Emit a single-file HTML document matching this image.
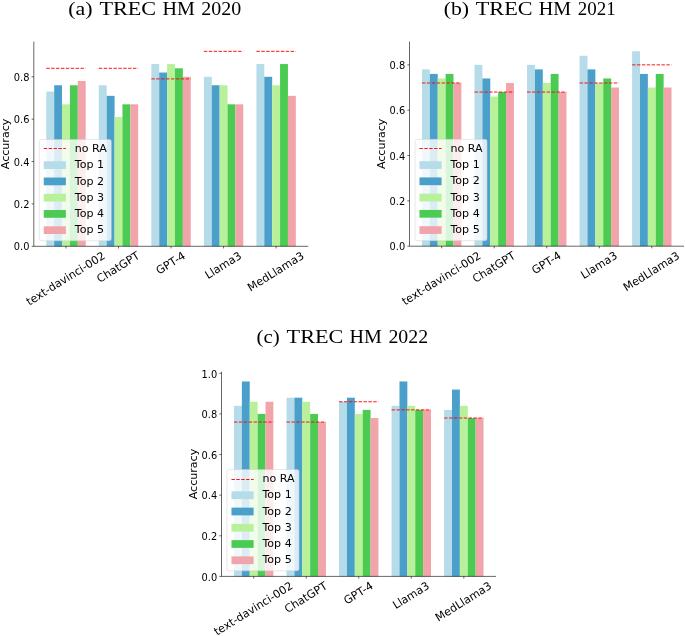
<!DOCTYPE html>
<html><head><meta charset="utf-8"><style>
html,body{margin:0;padding:0;background:#fff;}
body{width:685px;height:636px;overflow:hidden;}
svg{display:block;}
.s{font-family:"DejaVu Sans","Liberation Sans",sans-serif;fill:#000;}
.t{font-family:"Liberation Serif","DejaVu Serif",serif;fill:#000;}
</style></head><body>
<svg width="685" height="636" viewBox="0 0 685 636">
<rect x="0" y="0" width="685" height="636" fill="#fff"/>
<g><rect x="46.28" y="91.61" width="7.88" height="154.69" fill="#B5DCE8"/>
<rect x="54.16" y="85.25" width="7.88" height="161.05" fill="#4BA0CB"/>
<rect x="62.04" y="104.32" width="7.88" height="141.98" fill="#B8F19A"/>
<rect x="69.92" y="85.25" width="7.88" height="161.05" fill="#4CCB52"/>
<rect x="77.80" y="81.01" width="7.88" height="165.29" fill="#F1A5AB"/>
<rect x="98.81" y="85.25" width="7.88" height="161.05" fill="#B5DCE8"/>
<rect x="106.69" y="95.85" width="7.88" height="150.45" fill="#4BA0CB"/>
<rect x="114.57" y="117.04" width="7.88" height="129.26" fill="#B8F19A"/>
<rect x="122.45" y="104.32" width="7.88" height="141.98" fill="#4CCB52"/>
<rect x="130.33" y="104.32" width="7.88" height="141.98" fill="#F1A5AB"/>
<rect x="151.35" y="64.06" width="7.88" height="182.24" fill="#B5DCE8"/>
<rect x="159.23" y="72.54" width="7.88" height="173.76" fill="#4BA0CB"/>
<rect x="167.11" y="64.06" width="7.88" height="182.24" fill="#B8F19A"/>
<rect x="174.99" y="68.30" width="7.88" height="178.00" fill="#4CCB52"/>
<rect x="182.87" y="76.78" width="7.88" height="169.52" fill="#F1A5AB"/>
<rect x="203.88" y="76.78" width="7.88" height="169.52" fill="#B5DCE8"/>
<rect x="211.77" y="85.25" width="7.88" height="161.05" fill="#4BA0CB"/>
<rect x="219.65" y="85.25" width="7.88" height="161.05" fill="#B8F19A"/>
<rect x="227.53" y="104.32" width="7.88" height="141.98" fill="#4CCB52"/>
<rect x="235.41" y="104.32" width="7.88" height="141.98" fill="#F1A5AB"/>
<rect x="256.42" y="64.06" width="7.88" height="182.24" fill="#B5DCE8"/>
<rect x="264.30" y="76.78" width="7.88" height="169.52" fill="#4BA0CB"/>
<rect x="272.18" y="85.25" width="7.88" height="161.05" fill="#B8F19A"/>
<rect x="280.06" y="64.06" width="7.88" height="182.24" fill="#4CCB52"/>
<rect x="287.94" y="95.85" width="7.88" height="150.45" fill="#F1A5AB"/>
<line x1="46.28" y1="68.30" x2="85.68" y2="68.30" stroke="#ff0000" stroke-opacity="1.0" stroke-width="0.92" stroke-dasharray="3.41 1.48"/>
<line x1="98.81" y1="68.30" x2="138.22" y2="68.30" stroke="#ff0000" stroke-opacity="1.0" stroke-width="0.92" stroke-dasharray="3.41 1.48"/>
<line x1="151.35" y1="78.90" x2="190.75" y2="78.90" stroke="#ff0000" stroke-opacity="1.0" stroke-width="0.92" stroke-dasharray="3.41 1.48"/>
<line x1="203.88" y1="51.35" x2="243.29" y2="51.35" stroke="#ff0000" stroke-opacity="1.0" stroke-width="0.92" stroke-dasharray="3.41 1.48"/>
<line x1="256.42" y1="51.35" x2="295.82" y2="51.35" stroke="#ff0000" stroke-opacity="1.0" stroke-width="0.92" stroke-dasharray="3.41 1.48"/>
<line x1="33.80" y1="41.60" x2="33.80" y2="246.30" stroke="#000" stroke-width="0.6"/>
<line x1="33.80" y1="246.30" x2="308.30" y2="246.30" stroke="#000" stroke-width="0.6"/>
<line x1="31.65" y1="246.30" x2="33.80" y2="246.30" stroke="#000" stroke-width="0.6"/>
<text x="29.50" y="250" text-anchor="end" font-size="9.84" class="s">0.0</text>
<line x1="31.65" y1="203.92" x2="33.80" y2="203.92" stroke="#000" stroke-width="0.6"/>
<text x="29.50" y="208" text-anchor="end" font-size="9.84" class="s">0.2</text>
<line x1="31.65" y1="161.54" x2="33.80" y2="161.54" stroke="#000" stroke-width="0.6"/>
<text x="29.50" y="166" text-anchor="end" font-size="9.84" class="s">0.4</text>
<line x1="31.65" y1="119.16" x2="33.80" y2="119.16" stroke="#000" stroke-width="0.6"/>
<text x="29.50" y="123" text-anchor="end" font-size="9.84" class="s">0.6</text>
<line x1="31.65" y1="76.78" x2="33.80" y2="76.78" stroke="#000" stroke-width="0.6"/>
<text x="29.50" y="81" text-anchor="end" font-size="9.84" class="s">0.8</text>
<line x1="65.98" y1="246.30" x2="65.98" y2="248.45" stroke="#000" stroke-width="0.6"/>
<g transform="translate(65.98,279.14) rotate(-32)"><text x="0" y="3.06" text-anchor="middle" font-size="11.07" class="s">text-davinci-002</text></g>
<line x1="118.51" y1="246.30" x2="118.51" y2="248.45" stroke="#000" stroke-width="0.6"/>
<g transform="translate(118.51,267.83) rotate(-32)"><text x="0" y="3.06" text-anchor="middle" font-size="11.07" class="s">ChatGPT</text></g>
<line x1="171.05" y1="246.30" x2="171.05" y2="248.45" stroke="#000" stroke-width="0.6"/>
<g transform="translate(171.05,263.63) rotate(-32)"><text x="0" y="3.06" text-anchor="middle" font-size="11.07" class="s">GPT-4</text></g>
<line x1="223.59" y1="246.30" x2="223.59" y2="248.45" stroke="#000" stroke-width="0.6"/>
<g transform="translate(223.59,265.91) rotate(-32)"><text x="0" y="3.06" text-anchor="middle" font-size="11.07" class="s">Llama3</text></g>
<line x1="276.12" y1="246.30" x2="276.12" y2="248.45" stroke="#000" stroke-width="0.6"/>
<g transform="translate(276.12,272.11) rotate(-32)"><text x="0" y="3.06" text-anchor="middle" font-size="11.07" class="s">MedLlama3</text></g>
<g transform="translate(9.20,143.95) rotate(-90)"><text x="0" y="0" text-anchor="middle" font-size="11.07" class="s">Accuracy</text></g>
<rect x="39.33" y="139.44" width="71.98" height="101.33" rx="2" ry="2" fill="#fff" fill-opacity="0.8" stroke="#ccc" stroke-opacity="0.8" stroke-width="0.6"/>
<line x1="43.76" y1="148.50" x2="65.90" y2="148.50" stroke="#ff0000" stroke-opacity="1.0" stroke-width="0.92" stroke-dasharray="3.41 1.48"/>
<text x="74.76" y="152.08" font-size="11.07" class="s">no RA</text>
<rect x="43.76" y="161.28" width="22.14" height="7.75" fill="#B5DCE8"/>
<text x="74.76" y="168.33" font-size="11.07" class="s">Top 1</text>
<rect x="43.76" y="177.53" width="22.14" height="7.75" fill="#4BA0CB"/>
<text x="74.76" y="184.58" font-size="11.07" class="s">Top 2</text>
<rect x="43.76" y="193.78" width="22.14" height="7.75" fill="#B8F19A"/>
<text x="74.76" y="200.83" font-size="11.07" class="s">Top 3</text>
<rect x="43.76" y="210.03" width="22.14" height="7.75" fill="#4CCB52"/>
<text x="74.76" y="217.08" font-size="11.07" class="s">Top 4</text>
<rect x="43.76" y="226.29" width="22.14" height="7.75" fill="#F1A5AB"/>
<text x="74.76" y="233.33" font-size="11.07" class="s">Top 5</text>
<text x="68.34" y="15" font-size="19" class="t" textLength="24.22" lengthAdjust="spacingAndGlyphs">(a)</text>
<text x="99.40" y="15" font-size="19" class="t" textLength="56.71" lengthAdjust="spacingAndGlyphs">TREC</text>
<text x="162.42" y="15" font-size="19" class="t" textLength="32.37" lengthAdjust="spacingAndGlyphs">HM</text>
<text x="201.22" y="15" font-size="19" class="t" textLength="39.94" lengthAdjust="spacingAndGlyphs">2020</text></g>
<g><rect x="421.98" y="69.38" width="7.88" height="176.82" fill="#B5DCE8"/>
<rect x="429.86" y="73.92" width="7.88" height="172.28" fill="#4BA0CB"/>
<rect x="437.74" y="78.45" width="7.88" height="167.75" fill="#B8F19A"/>
<rect x="445.62" y="73.92" width="7.88" height="172.28" fill="#4CCB52"/>
<rect x="453.50" y="82.98" width="7.88" height="163.22" fill="#F1A5AB"/>
<rect x="474.51" y="64.85" width="7.88" height="181.35" fill="#B5DCE8"/>
<rect x="482.39" y="78.45" width="7.88" height="167.75" fill="#4BA0CB"/>
<rect x="490.27" y="96.59" width="7.88" height="149.61" fill="#B8F19A"/>
<rect x="498.15" y="92.05" width="7.88" height="154.15" fill="#4CCB52"/>
<rect x="506.03" y="82.98" width="7.88" height="163.22" fill="#F1A5AB"/>
<rect x="527.05" y="64.85" width="7.88" height="181.35" fill="#B5DCE8"/>
<rect x="534.93" y="69.38" width="7.88" height="176.82" fill="#4BA0CB"/>
<rect x="542.81" y="82.98" width="7.88" height="163.22" fill="#B8F19A"/>
<rect x="550.69" y="73.92" width="7.88" height="172.28" fill="#4CCB52"/>
<rect x="558.57" y="92.05" width="7.88" height="154.15" fill="#F1A5AB"/>
<rect x="579.58" y="55.78" width="7.88" height="190.42" fill="#B5DCE8"/>
<rect x="587.47" y="69.38" width="7.88" height="176.82" fill="#4BA0CB"/>
<rect x="595.35" y="82.98" width="7.88" height="163.22" fill="#B8F19A"/>
<rect x="603.23" y="78.45" width="7.88" height="167.75" fill="#4CCB52"/>
<rect x="611.11" y="87.52" width="7.88" height="158.68" fill="#F1A5AB"/>
<rect x="632.12" y="51.25" width="7.88" height="194.95" fill="#B5DCE8"/>
<rect x="640.00" y="73.92" width="7.88" height="172.28" fill="#4BA0CB"/>
<rect x="647.88" y="87.52" width="7.88" height="158.68" fill="#B8F19A"/>
<rect x="655.76" y="73.92" width="7.88" height="172.28" fill="#4CCB52"/>
<rect x="663.64" y="87.52" width="7.88" height="158.68" fill="#F1A5AB"/>
<line x1="421.98" y1="82.98" x2="461.38" y2="82.98" stroke="#ff0000" stroke-opacity="1.0" stroke-width="0.92" stroke-dasharray="3.41 1.48"/>
<line x1="474.51" y1="92.05" x2="513.92" y2="92.05" stroke="#ff0000" stroke-opacity="1.0" stroke-width="0.92" stroke-dasharray="3.41 1.48"/>
<line x1="527.05" y1="92.05" x2="566.45" y2="92.05" stroke="#ff0000" stroke-opacity="1.0" stroke-width="0.92" stroke-dasharray="3.41 1.48"/>
<line x1="579.58" y1="82.98" x2="618.99" y2="82.98" stroke="#ff0000" stroke-opacity="1.0" stroke-width="0.92" stroke-dasharray="3.41 1.48"/>
<line x1="632.12" y1="64.85" x2="671.52" y2="64.85" stroke="#ff0000" stroke-opacity="1.0" stroke-width="0.92" stroke-dasharray="3.41 1.48"/>
<line x1="409.50" y1="41.50" x2="409.50" y2="246.20" stroke="#000" stroke-width="0.6"/>
<line x1="409.50" y1="246.20" x2="684.00" y2="246.20" stroke="#000" stroke-width="0.6"/>
<line x1="407.35" y1="246.20" x2="409.50" y2="246.20" stroke="#000" stroke-width="0.6"/>
<text x="405.20" y="250" text-anchor="end" font-size="9.84" class="s">0.0</text>
<line x1="407.35" y1="200.86" x2="409.50" y2="200.86" stroke="#000" stroke-width="0.6"/>
<text x="405.20" y="205" text-anchor="end" font-size="9.84" class="s">0.2</text>
<line x1="407.35" y1="155.52" x2="409.50" y2="155.52" stroke="#000" stroke-width="0.6"/>
<text x="405.20" y="160" text-anchor="end" font-size="9.84" class="s">0.4</text>
<line x1="407.35" y1="110.19" x2="409.50" y2="110.19" stroke="#000" stroke-width="0.6"/>
<text x="405.20" y="114" text-anchor="end" font-size="9.84" class="s">0.6</text>
<line x1="407.35" y1="64.85" x2="409.50" y2="64.85" stroke="#000" stroke-width="0.6"/>
<text x="405.20" y="69" text-anchor="end" font-size="9.84" class="s">0.8</text>
<line x1="441.68" y1="246.20" x2="441.68" y2="248.35" stroke="#000" stroke-width="0.6"/>
<g transform="translate(441.68,279.04) rotate(-32)"><text x="0" y="3.06" text-anchor="middle" font-size="11.07" class="s">text-davinci-002</text></g>
<line x1="494.21" y1="246.20" x2="494.21" y2="248.35" stroke="#000" stroke-width="0.6"/>
<g transform="translate(494.21,267.73) rotate(-32)"><text x="0" y="3.06" text-anchor="middle" font-size="11.07" class="s">ChatGPT</text></g>
<line x1="546.75" y1="246.20" x2="546.75" y2="248.35" stroke="#000" stroke-width="0.6"/>
<g transform="translate(546.75,263.53) rotate(-32)"><text x="0" y="3.06" text-anchor="middle" font-size="11.07" class="s">GPT-4</text></g>
<line x1="599.29" y1="246.20" x2="599.29" y2="248.35" stroke="#000" stroke-width="0.6"/>
<g transform="translate(599.29,265.81) rotate(-32)"><text x="0" y="3.06" text-anchor="middle" font-size="11.07" class="s">Llama3</text></g>
<line x1="651.82" y1="246.20" x2="651.82" y2="248.35" stroke="#000" stroke-width="0.6"/>
<g transform="translate(651.82,272.01) rotate(-32)"><text x="0" y="3.06" text-anchor="middle" font-size="11.07" class="s">MedLlama3</text></g>
<g transform="translate(384.90,143.85) rotate(-90)"><text x="0" y="0" text-anchor="middle" font-size="11.07" class="s">Accuracy</text></g>
<rect x="415.04" y="139.34" width="71.98" height="101.33" rx="2" ry="2" fill="#fff" fill-opacity="0.8" stroke="#ccc" stroke-opacity="0.8" stroke-width="0.6"/>
<line x1="419.46" y1="148.50" x2="441.60" y2="148.50" stroke="#ff0000" stroke-opacity="1.0" stroke-width="0.92" stroke-dasharray="3.41 1.48"/>
<text x="450.46" y="151.98" font-size="11.07" class="s">no RA</text>
<rect x="419.46" y="161.18" width="22.14" height="7.75" fill="#B5DCE8"/>
<text x="450.46" y="168.23" font-size="11.07" class="s">Top 1</text>
<rect x="419.46" y="177.43" width="22.14" height="7.75" fill="#4BA0CB"/>
<text x="450.46" y="184.48" font-size="11.07" class="s">Top 2</text>
<rect x="419.46" y="193.68" width="22.14" height="7.75" fill="#B8F19A"/>
<text x="450.46" y="200.73" font-size="11.07" class="s">Top 3</text>
<rect x="419.46" y="209.93" width="22.14" height="7.75" fill="#4CCB52"/>
<text x="450.46" y="216.98" font-size="11.07" class="s">Top 4</text>
<rect x="419.46" y="226.19" width="22.14" height="7.75" fill="#F1A5AB"/>
<text x="450.46" y="233.23" font-size="11.07" class="s">Top 5</text>
<text x="443.74" y="15" font-size="19" class="t" textLength="25.31" lengthAdjust="spacingAndGlyphs">(b)</text>
<text x="475.80" y="15" font-size="19" class="t" textLength="56.71" lengthAdjust="spacingAndGlyphs">TREC</text>
<text x="538.82" y="15" font-size="19" class="t" textLength="32.37" lengthAdjust="spacingAndGlyphs">HM</text>
<text x="577.66" y="15" font-size="19" class="t" textLength="37.97" lengthAdjust="spacingAndGlyphs">2021</text></g>
<g><rect x="233.98" y="405.82" width="7.88" height="170.58" fill="#B5DCE8"/>
<rect x="241.86" y="381.45" width="7.88" height="194.95" fill="#4BA0CB"/>
<rect x="249.74" y="401.76" width="7.88" height="174.64" fill="#B8F19A"/>
<rect x="257.62" y="413.94" width="7.88" height="162.46" fill="#4CCB52"/>
<rect x="265.50" y="401.76" width="7.88" height="174.64" fill="#F1A5AB"/>
<rect x="286.51" y="397.69" width="7.88" height="178.71" fill="#B5DCE8"/>
<rect x="294.39" y="397.69" width="7.88" height="178.71" fill="#4BA0CB"/>
<rect x="302.27" y="401.76" width="7.88" height="174.64" fill="#B8F19A"/>
<rect x="310.15" y="413.94" width="7.88" height="162.46" fill="#4CCB52"/>
<rect x="318.03" y="422.06" width="7.88" height="154.34" fill="#F1A5AB"/>
<rect x="339.05" y="401.76" width="7.88" height="174.64" fill="#B5DCE8"/>
<rect x="346.93" y="397.69" width="7.88" height="178.71" fill="#4BA0CB"/>
<rect x="354.81" y="413.94" width="7.88" height="162.46" fill="#B8F19A"/>
<rect x="362.69" y="409.88" width="7.88" height="166.52" fill="#4CCB52"/>
<rect x="370.57" y="418.00" width="7.88" height="158.40" fill="#F1A5AB"/>
<rect x="391.58" y="405.82" width="7.88" height="170.58" fill="#B5DCE8"/>
<rect x="399.47" y="381.45" width="7.88" height="194.95" fill="#4BA0CB"/>
<rect x="407.35" y="405.82" width="7.88" height="170.58" fill="#B8F19A"/>
<rect x="415.23" y="409.88" width="7.88" height="166.52" fill="#4CCB52"/>
<rect x="423.11" y="409.88" width="7.88" height="166.52" fill="#F1A5AB"/>
<rect x="444.12" y="409.88" width="7.88" height="166.52" fill="#B5DCE8"/>
<rect x="452.00" y="389.57" width="7.88" height="186.83" fill="#4BA0CB"/>
<rect x="459.88" y="405.82" width="7.88" height="170.58" fill="#B8F19A"/>
<rect x="467.76" y="418.00" width="7.88" height="158.40" fill="#4CCB52"/>
<rect x="475.64" y="418.00" width="7.88" height="158.40" fill="#F1A5AB"/>
<line x1="233.98" y1="422.06" x2="273.38" y2="422.06" stroke="#ff0000" stroke-opacity="1.0" stroke-width="0.92" stroke-dasharray="3.41 1.48"/>
<line x1="286.51" y1="422.06" x2="325.92" y2="422.06" stroke="#ff0000" stroke-opacity="1.0" stroke-width="0.92" stroke-dasharray="3.41 1.48"/>
<line x1="339.05" y1="401.76" x2="378.45" y2="401.76" stroke="#ff0000" stroke-opacity="1.0" stroke-width="0.92" stroke-dasharray="3.41 1.48"/>
<line x1="391.58" y1="409.88" x2="430.99" y2="409.88" stroke="#ff0000" stroke-opacity="1.0" stroke-width="0.92" stroke-dasharray="3.41 1.48"/>
<line x1="444.12" y1="418.00" x2="483.52" y2="418.00" stroke="#ff0000" stroke-opacity="1.0" stroke-width="0.92" stroke-dasharray="3.41 1.48"/>
<line x1="221.50" y1="371.70" x2="221.50" y2="576.40" stroke="#000" stroke-width="0.6"/>
<line x1="221.50" y1="576.40" x2="496.00" y2="576.40" stroke="#000" stroke-width="0.6"/>
<line x1="219.35" y1="576.40" x2="221.50" y2="576.40" stroke="#000" stroke-width="0.6"/>
<text x="217.20" y="581" text-anchor="end" font-size="9.84" class="s">0.0</text>
<line x1="219.35" y1="535.78" x2="221.50" y2="535.78" stroke="#000" stroke-width="0.6"/>
<text x="217.20" y="540" text-anchor="end" font-size="9.84" class="s">0.2</text>
<line x1="219.35" y1="495.17" x2="221.50" y2="495.17" stroke="#000" stroke-width="0.6"/>
<text x="217.20" y="499" text-anchor="end" font-size="9.84" class="s">0.4</text>
<line x1="219.35" y1="454.55" x2="221.50" y2="454.55" stroke="#000" stroke-width="0.6"/>
<text x="217.20" y="459" text-anchor="end" font-size="9.84" class="s">0.6</text>
<line x1="219.35" y1="413.94" x2="221.50" y2="413.94" stroke="#000" stroke-width="0.6"/>
<text x="217.20" y="418" text-anchor="end" font-size="9.84" class="s">0.8</text>
<line x1="219.35" y1="373.32" x2="221.50" y2="373.32" stroke="#000" stroke-width="0.6"/>
<text x="217.20" y="378" text-anchor="end" font-size="9.84" class="s">1.0</text>
<line x1="253.68" y1="576.40" x2="253.68" y2="578.55" stroke="#000" stroke-width="0.6"/>
<g transform="translate(253.68,609.24) rotate(-32)"><text x="0" y="3.06" text-anchor="middle" font-size="11.07" class="s">text-davinci-002</text></g>
<line x1="306.21" y1="576.40" x2="306.21" y2="578.55" stroke="#000" stroke-width="0.6"/>
<g transform="translate(306.21,597.93) rotate(-32)"><text x="0" y="3.06" text-anchor="middle" font-size="11.07" class="s">ChatGPT</text></g>
<line x1="358.75" y1="576.40" x2="358.75" y2="578.55" stroke="#000" stroke-width="0.6"/>
<g transform="translate(358.75,593.73) rotate(-32)"><text x="0" y="3.06" text-anchor="middle" font-size="11.07" class="s">GPT-4</text></g>
<line x1="411.29" y1="576.40" x2="411.29" y2="578.55" stroke="#000" stroke-width="0.6"/>
<g transform="translate(411.29,596.01) rotate(-32)"><text x="0" y="3.06" text-anchor="middle" font-size="11.07" class="s">Llama3</text></g>
<line x1="463.82" y1="576.40" x2="463.82" y2="578.55" stroke="#000" stroke-width="0.6"/>
<g transform="translate(463.82,602.21) rotate(-32)"><text x="0" y="3.06" text-anchor="middle" font-size="11.07" class="s">MedLlama3</text></g>
<g transform="translate(196.90,474.05) rotate(-90)"><text x="0" y="0" text-anchor="middle" font-size="11.07" class="s">Accuracy</text></g>
<rect x="227.03" y="469.54" width="71.98" height="101.33" rx="2" ry="2" fill="#fff" fill-opacity="0.8" stroke="#ccc" stroke-opacity="0.8" stroke-width="0.6"/>
<line x1="231.46" y1="479.50" x2="253.60" y2="479.50" stroke="#ff0000" stroke-opacity="1.0" stroke-width="0.92" stroke-dasharray="3.41 1.48"/>
<text x="262.46" y="482.18" font-size="11.07" class="s">no RA</text>
<rect x="231.46" y="491.38" width="22.14" height="7.75" fill="#B5DCE8"/>
<text x="262.46" y="498.43" font-size="11.07" class="s">Top 1</text>
<rect x="231.46" y="507.63" width="22.14" height="7.75" fill="#4BA0CB"/>
<text x="262.46" y="514.68" font-size="11.07" class="s">Top 2</text>
<rect x="231.46" y="523.88" width="22.14" height="7.75" fill="#B8F19A"/>
<text x="262.46" y="530.93" font-size="11.07" class="s">Top 3</text>
<rect x="231.46" y="540.13" width="22.14" height="7.75" fill="#4CCB52"/>
<text x="262.46" y="547.18" font-size="11.07" class="s">Top 4</text>
<rect x="231.46" y="556.39" width="22.14" height="7.75" fill="#F1A5AB"/>
<text x="262.46" y="563.43" font-size="11.07" class="s">Top 5</text>
<text x="256.58" y="343" font-size="19" class="t" textLength="23.13" lengthAdjust="spacingAndGlyphs">(c)</text>
<text x="286.60" y="343" font-size="19" class="t" textLength="56.71" lengthAdjust="spacingAndGlyphs">TREC</text>
<text x="349.62" y="343" font-size="19" class="t" textLength="32.37" lengthAdjust="spacingAndGlyphs">HM</text>
<text x="388.43" y="343" font-size="19" class="t" textLength="39.66" lengthAdjust="spacingAndGlyphs">2022</text></g>
</svg>
</body></html>
